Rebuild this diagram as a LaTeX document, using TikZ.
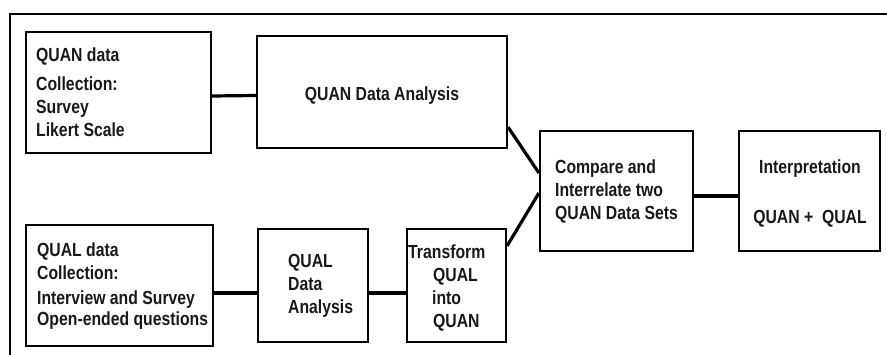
\documentclass[tikz,border=0pt]{standalone}
\usepackage{fontspec}
\setmainfont{Liberation Sans}[FakeStretch=0.83]
\usetikzlibrary{calc}
\begin{document}
\begin{tikzpicture}[x=1pt,y=-1pt,
  box/.style={draw=black, line width=2.2pt, rectangle, inner sep=0pt},
  txt/.style={inner sep=0pt, align=left, font=\fontsize{19}{23}\selectfont\bfseries, text=black!90},
  ctxt/.style={txt, align=center},
  conn/.style={line width=3.2pt},
  frame/.style={line width=1.6pt}]
\useasboundingbox (0,0) rectangle (887,355);
\draw[frame] (10,355) -- (10,14) -- (887,14);
% boxes
\node[box, minimum width=185pt, minimum height=121pt] (qn) at (118.5,92.5) {};
\node[box, minimum width=250pt, minimum height=112pt] (qa) at (382,92) {};
\node[box, minimum width=153pt, minimum height=120pt] (cmp) at (616.5,191) {};
\node[box, minimum width=141pt, minimum height=120pt] (int) at (809.5,191) {};
\node[box, minimum width=187pt, minimum height=121pt] (ql) at (119.5,285.5) {};
\node[box, minimum width=110pt, minimum height=113pt] (qla) at (313,285.5) {};
\node[box, minimum width=99pt, minimum height=113pt] (tr) at (456.5,285.5) {};
% texts
\node[txt, anchor=west] (tqn) at (36,92.5) {QUAN data\\[6pt]Collection:\\Survey\\Likert Scale};
\node[ctxt] (tqa) at (382,96) {QUAN Data Analysis};
\node[txt, anchor=west] (tcmp) at (555,191.5) {Compare and\\Interrelate two\\QUAN Data Sets};
\node[ctxt] (tint) at (810,193) {Interpretation\\[27pt]QUAN +\ \ QUAL};
\node[txt, anchor=west] (tql) at (37,286.5) {QUAL data\\Collection:\\[2pt]Interview and Survey\\[-2pt]Open-ended questions};
\node[txt, anchor=west] (tqla) at (288,286) {QUAL\\Data\\Analysis};
\node[txt, anchor=west] (ttr) at (408,287.5) {Transform\\\hspace*{25pt}QUAL\\\hspace*{24pt}into\\\hspace*{25pt}QUAN};
% connectors
\draw[conn] ([yshift=-3.5pt]qn.east) -- ([yshift=-3.5pt]qa.west);
\draw[conn] ([yshift=-7.5pt]ql.east) -- ([yshift=-7.5pt]qla.west);
\draw[conn] ([yshift=-7.5pt]qla.east) -- ([yshift=-7.5pt]tr.west);
\draw[conn] ([yshift=22pt]qa.south east) -- ([yshift=18pt]cmp.west);
\draw[conn] ([yshift=-18pt]tr.north east) -- ([yshift=-2pt]cmp.west);
\draw[conn] ([yshift=-5pt]cmp.east) -- ([yshift=-5pt]int.west);
\end{tikzpicture}
\end{document}
